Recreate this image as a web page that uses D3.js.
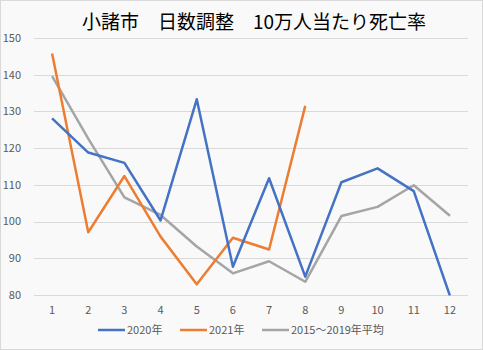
<!DOCTYPE html>
<html><head><meta charset="utf-8">
<script src="https://cdn.jsdelivr.net/npm/d3@7"></script>
<style>html,body{margin:0;padding:0;background:#fff;}svg{display:block;}</style>
</head><body>
<script>
const months = [1,2,3,4,5,6,7,8,9,10,11,12];
const yTicks = [80,90,100,110,120,130,140,150];
const seriesNames = ["2020年","2021年","2015～2019年平均"];
const colors = ["#4472C4","#ED7D31","#A5A5A5"];
const v2020 = [128.1,118.8,116.0,100.3,133.3,87.7,111.8,85.0,110.7,114.5,108.3,79.8];
const v2021 = [145.8,97.1,112.4,95.9,82.9,95.6,92.4,131.5];
const vAvg = [139.6,122.6,106.6,101.8,93.2,85.9,89.2,83.6,101.5,104.0,109.9,101.6];
const title = "小諸市　日数調整　10万人当たり死亡率";

const W=483,H=350;
const svg=d3.select("body").append("svg").attr("width",W).attr("height",H);
svg.append("rect").attr("x",0.5).attr("y",0.5).attr("width",W-1).attr("height",H-1)
  .attr("fill","#f9f9f9").attr("stroke","#d9d9d9");

const x=d3.scaleBand().domain(months).range([34,468]);
const y=d3.scaleLinear().domain([80,150]).range([295,38]);

const g=svg.append("g");
g.selectAll("line.grid").data(yTicks).join("line")
  .attr("x1",34).attr("x2",468).attr("y1",d=>Math.round(y(d))+0.5).attr("y2",d=>Math.round(y(d))+0.5)
  .attr("stroke","#d9d9d9").attr("stroke-width",1);

const font="'Noto Sans CJK JP','Noto Sans',sans-serif";
g.selectAll("text.yl").data(yTicks).join("text")
  .attr("x",21).attr("y",d=>y(d)).attr("dy","0.35em").attr("text-anchor","end")
  .attr("font-family",font).attr("font-size",11).attr("fill","#595959").text(d=>d);
g.selectAll("text.xl").data(months).join("text")
  .attr("x",d=>x(d)+x.bandwidth()/2).attr("y",310).attr("dy","0.35em").attr("text-anchor","middle")
  .attr("font-family",font).attr("font-size",11).attr("fill","#595959").text(d=>d);

svg.append("clipPath").attr("id","clip").append("rect").attr("x",34).attr("y",30).attr("width",434).attr("height",265.5);
const line=d3.line().x((d,i)=>x(months[i])+x.bandwidth()/2).y(d=>y(d));
[v2020,v2021,vAvg].map((s,i)=>({s,i})).reverse().forEach(({s,i})=>{
  g.append("path").attr("d",line(s)).attr("fill","none").attr("stroke",colors[i])
   .attr("stroke-width",2.5).attr("stroke-linejoin","round").attr("clip-path","url(#clip)");
});

svg.append("text").attr("x",254).attr("y",22).attr("dy","0.35em").attr("text-anchor","middle")
  .attr("font-family",font).attr("font-size",19).attr("fill","#000").text(title);

const legX=[98,180,262];
seriesNames.forEach((n,i)=>{
  svg.append("line").attr("x1",legX[i]).attr("x2",legX[i]+27).attr("y1",330).attr("y2",330)
    .attr("stroke",colors[i]).attr("stroke-width",2.5);
  svg.append("text").attr("x",legX[i]+29).attr("y",330).attr("dy","0.35em")
    .attr("font-family",font).attr("font-size",11).attr("fill","#595959").text(n);
});
</script>
</body></html>
